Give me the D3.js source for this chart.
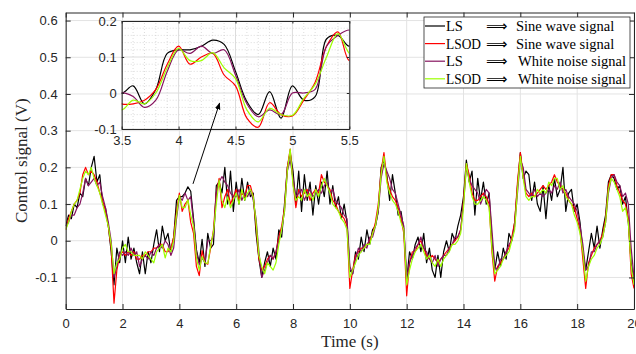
<!DOCTYPE html>
<html><head><meta charset="utf-8">
<script src="https://cdn.jsdelivr.net/npm/d3@7"></script>
<style>html,body{margin:0;padding:0;background:#fff}svg{display:block}</style>
</head><body>
<script>
// Control signal samples, one every 0.1 s from 0 to 20 s (one row per second).
const sampleStep = 0.1;

const lsSine = [
  0.04,0.07,0.06,0.10,0.09,0.13,0.12,0.17,0.15,0.20,
  0.23,0.16,0.18,0.10,0.09,0.04,-0.03,-0.12,-0.02,-0.06,
  0.00,-0.06,0.01,-0.05,-0.02,-0.06,-0.09,-0.03,-0.09,-0.03,
  -0.06,-0.01,0.03,-0.03,0.04,0.00,0.02,-0.03,0.01,0.11,
  0.12,0.12,0.13,0.147,0.135,0.06,-0.024,-0.06,0.004,-0.07,
  0.02,-0.02,-0.01,0.15,0.16,0.13,0.20,0.10,0.19,0.08,
  0.16,0.10,0.17,0.11,0.16,0.12,0.13,0.02,-0.05,-0.10,
  -0.06,-0.03,-0.07,-0.02,-0.05,0.03,0.01,0.10,0.20,0.24,
  0.19,0.10,0.19,0.08,0.18,0.11,0.16,0.07,0.15,0.10,
  0.16,0.12,0.19,0.10,0.15,0.09,0.12,0.06,0.10,0.05,
  -0.08,-0.09,-0.03,-0.05,0.01,-0.03,0.03,-0.01,0.03,0.04,
  0.08,0.20,0.22,0.18,0.11,0.18,0.13,0.07,0.08,0.03,
  -0.11,-0.03,-0.05,-0.01,0.01,-0.03,0.02,-0.06,-0.02,-0.08,
  -0.10,-0.04,-0.10,-0.03,0.00,-0.03,0.02,0.00,0.04,0.07,
  0.12,0.22,0.16,0.19,0.07,0.17,0.11,0.16,0.10,0.13,
  0.00,-0.08,-0.03,-0.07,-0.02,-0.05,0.02,0.00,0.05,0.15,
  0.24,0.17,0.19,0.18,0.11,0.16,0.10,0.08,0.15,0.06,
  0.15,0.11,0.17,0.12,0.14,0.20,0.08,0.13,0.14,0.08,
  0.10,0.05,-0.03,-0.08,-0.03,0.02,-0.02,0.04,-0.02,0.03,
  0.07,0.16,0.18,0.17,0.14,0.15,0.10,0.12,0.05,-0.06,
  -0.11
];

const lsodSine = [
  0.03,0.06,0.08,0.10,0.11,0.13,0.18,0.20,0.18,0.19,
  0.18,0.16,0.13,0.11,0.08,0.04,-0.02,-0.17,-0.08,-0.04,
  -0.03,-0.04,-0.03,-0.04,-0.03,-0.05,-0.05,-0.04,-0.04,-0.03,
  -0.03,-0.02,-0.02,-0.01,-0.01,-0.03,-0.03,-0.02,0.01,0.08,
  0.13,0.08,0.10,0.11,0.05,0.02,-0.07,-0.095,-0.027,-0.06,
  -0.064,-0.02,0.03,0.13,0.17,0.09,0.12,0.14,0.10,0.12,
  0.14,0.11,0.13,0.12,0.15,0.15,0.12,0.04,-0.05,-0.08,
  -0.07,-0.05,-0.04,-0.05,-0.03,0.01,0.04,0.09,0.20,0.25,
  0.16,0.09,0.14,0.12,0.13,0.14,0.11,0.13,0.14,0.13,
  0.18,0.16,0.15,0.14,0.11,0.10,0.08,0.07,0.06,0.04,
  -0.13,-0.08,-0.04,-0.03,-0.02,-0.02,-0.01,0.00,0.02,0.05,
  0.10,0.19,0.24,0.17,0.14,0.12,0.11,0.09,0.06,0.02,
  -0.15,-0.06,-0.03,-0.03,-0.01,0.00,-0.02,-0.04,-0.05,-0.04,
  -0.05,-0.06,-0.05,-0.04,-0.03,-0.02,-0.01,0.00,0.01,0.03,
  0.11,0.21,0.18,0.13,0.11,0.11,0.12,0.13,0.12,0.10,
  -0.03,-0.11,-0.07,-0.06,-0.05,-0.03,-0.02,0.01,0.05,0.16,
  0.24,0.18,0.13,0.12,0.13,0.12,0.13,0.14,0.15,0.14,
  0.15,0.16,0.18,0.16,0.15,0.14,0.13,0.11,0.10,0.09,
  0.06,0.03,-0.05,-0.13,-0.06,-0.04,-0.02,-0.01,0.00,0.02,
  0.06,0.15,0.18,0.18,0.15,0.13,0.11,0.10,0.06,-0.09,
  -0.13
];

const lsWhite = [
  0.04,0.05,0.07,0.07,0.09,0.10,0.13,0.17,0.15,0.16,
  0.17,0.15,0.16,0.12,0.09,0.05,0.00,-0.10,-0.07,-0.03,
  -0.04,-0.03,-0.04,-0.02,-0.04,-0.03,-0.07,-0.05,-0.04,-0.05,
  -0.03,-0.04,-0.02,-0.01,-0.02,0.00,-0.01,-0.04,-0.02,0.06,
  0.12,0.11,0.13,0.11,0.12,0.05,-0.03,-0.066,-0.047,-0.06,
  0.00,0.00,0.01,0.13,0.16,0.175,0.16,0.15,0.13,0.12,
  0.12,0.14,0.11,0.13,0.12,0.14,0.11,0.06,-0.03,-0.10,
  -0.08,-0.06,-0.04,-0.05,-0.03,0.00,0.03,0.08,0.19,0.22,
  0.17,0.12,0.13,0.14,0.11,0.13,0.14,0.12,0.13,0.14,
  0.13,0.15,0.16,0.13,0.14,0.11,0.10,0.09,0.07,0.06,
  -0.07,-0.09,-0.05,-0.02,-0.03,-0.01,-0.02,0.01,0.01,0.04,
  0.08,0.17,0.21,0.19,0.17,0.14,0.13,0.10,0.07,0.04,
  -0.10,-0.06,-0.04,-0.02,-0.01,0.01,-0.02,-0.03,-0.05,-0.06,
  -0.04,-0.07,-0.05,-0.04,-0.04,-0.02,-0.01,0.01,0.01,0.03,
  0.10,0.20,0.17,0.15,0.14,0.13,0.10,0.12,0.14,0.13,
  0.03,-0.07,-0.08,-0.05,-0.05,-0.03,-0.01,0.00,0.04,0.13,
  0.22,0.20,0.14,0.13,0.12,0.14,0.12,0.13,0.12,0.13,
  0.14,0.13,0.15,0.14,0.16,0.13,0.14,0.12,0.11,0.10,
  0.08,0.04,-0.01,-0.08,-0.07,-0.03,-0.03,-0.01,0.00,0.01,
  0.05,0.13,0.17,0.18,0.16,0.15,0.12,0.13,0.10,-0.02,
  -0.10
];

const lsodWhite = [
  0.03,0.05,0.08,0.10,0.11,0.14,0.17,0.19,0.18,0.20,
  0.17,0.15,0.13,0.10,0.07,0.04,-0.01,-0.09,-0.06,-0.05,
  -0.02,-0.01,-0.03,-0.03,-0.04,-0.04,-0.04,-0.05,-0.03,-0.04,
  -0.05,-0.06,-0.03,-0.02,-0.01,-0.047,-0.02,-0.03,0.00,0.07,
  0.124,0.09,0.09,0.112,0.07,0.04,-0.047,-0.08,-0.043,-0.06,
  -0.062,-0.015,0.024,0.10,0.165,0.11,0.09,0.12,0.09,0.11,
  0.13,0.10,0.14,0.11,0.13,0.14,0.12,0.05,-0.04,-0.07,
  -0.09,-0.06,-0.07,-0.08,-0.06,-0.01,0.03,0.08,0.19,0.25,
  0.15,0.11,0.12,0.11,0.14,0.12,0.13,0.11,0.14,0.12,
  0.15,0.17,0.15,0.13,0.10,0.09,0.08,0.06,0.05,0.03,
  -0.10,-0.08,-0.06,-0.04,-0.03,-0.02,-0.01,-0.01,0.02,0.04,
  0.09,0.18,0.23,0.16,0.13,0.11,0.10,0.08,0.05,0.03,
  -0.12,-0.08,-0.05,-0.03,-0.02,-0.01,-0.03,-0.05,-0.04,-0.06,
  -0.07,-0.05,-0.07,-0.05,-0.04,-0.03,-0.01,-0.01,0.00,0.02,
  0.09,0.21,0.16,0.12,0.10,0.10,0.11,0.12,0.11,0.09,
  -0.02,-0.09,-0.08,-0.07,-0.05,-0.04,-0.03,0.00,0.03,0.14,
  0.23,0.17,0.12,0.11,0.12,0.12,0.14,0.13,0.14,0.13,
  0.16,0.15,0.17,0.17,0.14,0.15,0.12,0.11,0.10,0.07,
  0.05,0.02,-0.03,-0.11,-0.07,-0.05,-0.04,-0.02,-0.01,0.01,
  0.05,0.14,0.17,0.16,0.14,0.12,0.08,0.09,0.05,-0.07,
  -0.12
];

const seriesValues = [lsSine, lsodSine, lsWhite, lsodWhite];
const seriesMethods = ["LS", "LSOD", "LS", "LSOD"];
const seriesInputs = ["Sine wave signal", "Sine wave signal", "White noise signal", "White noise signal"];
const seriesColors = ["#000000", "#ff0000", "#86145f", "#9cff00"];

const xTicks = [0, 2, 4, 6, 8, 10, 12, 14, 16, 18, 20];
const yTicks = [-0.1, 0, 0.1, 0.2, 0.3, 0.4, 0.5, 0.6];
const insetXTicks = [3.5, 4, 4.5, 5, 5.5];
const insetYTicks = [-0.1, 0, 0.1, 0.2];

const xLabel = "Time (s)";
const yLabel = "Control signal (V)";

// ---------------------------------------------------------------
const W = 636, H = 354;
const axisColor = "#262626";
const gridColor = "#e3e3e3";
const tickFont = "'Liberation Sans', Arial, sans-serif";
const serifFont = "'Liberation Serif', 'Times New Roman', serif";

const svg = d3.select("body").append("svg").attr("width", W).attr("height", H);

const x = d3.scaleLinear().domain([0, 20]).range([65.7, 634]);
const y = d3.scaleLinear().domain([-0.186, 0.622]).range([309, 12.5]);

const xi = d3.scaleLinear().domain([3.5, 5.5]).range([121.7, 349.3]);
const yi = d3.scaleLinear().domain([-0.1, 0.2]).range([129, 21]);

const fmt = v => (Math.abs(v) < 1e-9 ? "0" : String(+v.toFixed(2)));

const series = seriesValues.map((vals, k) => ({
  color: seriesColors[k],
  method: seriesMethods[k],
  input: seriesInputs[k],
  points: vals.map((v, i) => ({ t: +(i * sampleStep).toFixed(1), v }))
}));

const defs = svg.append("defs");
defs.append("clipPath").attr("id", "mainClip").append("rect")
  .attr("x", x(0)).attr("y", y(0.622)).attr("width", x(20) - x(0)).attr("height", y(-0.186) - y(0.622));
defs.append("clipPath").attr("id", "insetClip").append("rect")
  .attr("x", xi(3.5)).attr("y", yi(0.2)).attr("width", xi(5.5) - xi(3.5)).attr("height", yi(-0.1) - yi(0.2));
defs.append("marker").attr("id", "arrowHead")
  .attr("viewBox", "0 0 10 10").attr("refX", 9).attr("refY", 5)
  .attr("markerWidth", 7).attr("markerHeight", 7).attr("markerUnits", "userSpaceOnUse")
  .attr("orient", "auto")
  .append("path").attr("d", "M0,1 L10,5 L0,9 Z").attr("fill", "#000");

// ---- main axes: grid
const main = svg.append("g");
main.append("g").selectAll("line").data(xTicks).join("line")
  .attr("x1", d => x(d)).attr("x2", d => x(d)).attr("y1", y.range()[0]).attr("y2", y.range()[1])
  .attr("stroke", gridColor).attr("stroke-width", 1);
main.append("g").selectAll("line").data(yTicks).join("line")
  .attr("y1", d => y(d)).attr("y2", d => y(d)).attr("x1", x.range()[0]).attr("x2", x.range()[1])
  .attr("stroke", gridColor).attr("stroke-width", 1);

// ---- main traces
const mainLine = d3.line().x(d => x(d.t)).y(d => y(d.v));
main.append("g").attr("clip-path", "url(#mainClip)")
  .selectAll("path").data(series).join("path")
  .attr("d", d => mainLine(d.points))
  .attr("fill", "none").attr("stroke", d => d.color)
  .attr("stroke-width", 1.2).attr("stroke-linejoin", "round");

// ---- main axes: frame, ticks, labels
function styleAxis(g) {
  g.selectAll(".domain").attr("stroke", axisColor).attr("stroke-width", 1);
  g.selectAll(".tick line").attr("stroke", axisColor);
  g.selectAll(".tick text").attr("fill", axisColor).attr("font-family", tickFont).attr("font-size", 13);
}
main.append("g").attr("transform", `translate(0,${y.range()[0]})`)
  .call(d3.axisBottom(x).tickValues(xTicks).tickFormat(fmt).tickSizeInner(-5).tickSizeOuter(0).tickPadding(10))
  .call(styleAxis);
main.append("g").attr("transform", `translate(0,${y.range()[1]})`)
  .call(d3.axisTop(x).tickValues(xTicks).tickFormat("").tickSizeInner(-5).tickSizeOuter(0))
  .call(styleAxis);
main.append("g").attr("transform", `translate(${x.range()[0]},0)`)
  .call(d3.axisLeft(y).tickValues(yTicks).tickFormat(fmt).tickSizeInner(-5).tickSizeOuter(0).tickPadding(8))
  .call(styleAxis);
main.append("g").attr("transform", `translate(${x.range()[1]},0)`)
  .call(d3.axisRight(y).tickValues(yTicks).tickFormat("").tickSizeInner(-5).tickSizeOuter(0))
  .call(styleAxis);

svg.append("text").text(xLabel)
  .attr("x", (x.range()[0] + x.range()[1]) / 2).attr("y", 347)
  .attr("text-anchor", "middle").attr("font-family", serifFont).attr("font-size", 17).attr("fill", axisColor);
svg.append("text").text(yLabel)
  .attr("transform", `translate(27,${(y.range()[0] + y.range()[1]) / 2}) rotate(-90)`)
  .attr("text-anchor", "middle").attr("font-family", serifFont).attr("font-size", 17).attr("fill", axisColor);

// ---- inset: zoomed view of 3.5 – 5.5 s
const inset = svg.append("g");
inset.append("rect")
  .attr("x", xi(3.5)).attr("y", yi(0.2)).attr("width", xi(5.5) - xi(3.5)).attr("height", yi(-0.1) - yi(0.2))
  .attr("fill", "#fff");
const minorX = d3.range(35, 56).map(d => d / 10).filter(d => !insetXTicks.includes(d));
const minorY = d3.range(-50, 101, 10).map(d => d / 500).filter(d => !insetYTicks.some(m => Math.abs(m - d) < 1e-9));
inset.append("g").selectAll("line").data(minorX).join("line")
  .attr("x1", d => xi(d)).attr("x2", d => xi(d)).attr("y1", yi.range()[0]).attr("y2", yi.range()[1])
  .attr("stroke", "#c4c4c4").attr("stroke-width", 0.6).attr("stroke-dasharray", "1,2");
inset.append("g").selectAll("line").data(minorY).join("line")
  .attr("y1", d => yi(d)).attr("y2", d => yi(d)).attr("x1", xi.range()[0]).attr("x2", xi.range()[1])
  .attr("stroke", "#c4c4c4").attr("stroke-width", 0.6).attr("stroke-dasharray", "1,2");
inset.append("g").selectAll("line").data(insetXTicks).join("line")
  .attr("x1", d => xi(d)).attr("x2", d => xi(d)).attr("y1", yi.range()[0]).attr("y2", yi.range()[1])
  .attr("stroke", "#dcdcdc");
inset.append("g").selectAll("line").data(insetYTicks).join("line")
  .attr("y1", d => yi(d)).attr("y2", d => yi(d)).attr("x1", xi.range()[0]).attr("x2", xi.range()[1])
  .attr("stroke", "#dcdcdc");

const insetLine = d3.line().x(d => xi(d.t)).y(d => yi(d.v)).curve(d3.curveCatmullRom.alpha(0.5));
inset.append("g").attr("clip-path", "url(#insetClip)")
  .selectAll("path").data(series).join("path")
  .attr("d", d => insetLine(d.points.filter(p => p.t >= 3.3 && p.t <= 5.7)))
  .attr("fill", "none").attr("stroke", d => d.color).attr("stroke-width", 1.2);

inset.append("g").attr("transform", `translate(0,${yi.range()[0]})`)
  .call(d3.axisBottom(xi).tickValues(insetXTicks).tickFormat(fmt).tickSizeInner(-2.5).tickSizeOuter(0).tickPadding(7))
  .call(styleAxis);
inset.append("g").attr("transform", `translate(0,${yi.range()[1]})`)
  .call(d3.axisTop(xi).tickValues(insetXTicks).tickFormat("").tickSizeInner(-2.5).tickSizeOuter(0))
  .call(styleAxis);
inset.append("g").attr("transform", `translate(${xi.range()[0]},0)`)
  .call(d3.axisLeft(yi).tickValues(insetYTicks).tickFormat(fmt).tickSizeInner(-2.5).tickSizeOuter(0).tickPadding(5))
  .call(styleAxis);
inset.append("g").attr("transform", `translate(${xi.range()[1]},0)`)
  .call(d3.axisRight(yi).tickValues(insetYTicks).tickFormat("").tickSizeInner(-2.5).tickSizeOuter(0))
  .call(styleAxis);

// ---- arrow from the highlighted bump to the inset
svg.append("line")
  .attr("x1", x(4.48)).attr("y1", y(0.155))
  .attr("x2", xi(4.36)).attr("y2", yi(-0.028))
  .attr("stroke", "#000").attr("stroke-width", 1).attr("marker-end", "url(#arrowHead)");

// ---- legend
const legend = svg.append("g").attr("transform", "translate(424,17)");
legend.append("rect").attr("width", 206).attr("height", 71)
  .attr("fill", "#fff").attr("stroke", axisColor).attr("stroke-width", 0.8);
const rows = legend.selectAll("g.row").data(series).join("g").attr("class", "row")
  .attr("transform", (d, i) => `translate(0,${9 + i * 17.6})`);
rows.append("line").attr("x1", 1).attr("x2", 21).attr("y1", 0).attr("y2", 0)
  .attr("stroke", d => d.color).attr("stroke-width", 1.2);
rows.append("text").text(d => d.method).attr("x", 22).attr("y", 5)
  .attr("font-family", serifFont).attr("font-size", 14.5).attr("fill", "#000")
  .each(function (d) { if (d.method.length > 2) d3.select(this).attr("textLength", 35).attr("lengthAdjust", "spacingAndGlyphs"); });
rows.append("text").text("\u27F9").attr("x", 62).attr("y", 5)
  .attr("font-family", "'DejaVu Sans', sans-serif").attr("font-size", 15).attr("fill", "#000");
rows.append("text").text(d => d.input).attr("x", d => d.input[0] === "S" ? 92 : 94).attr("y", 5)
  .attr("font-family", serifFont).attr("font-size", 14.5).attr("fill", "#000");
</script>
</body></html>
